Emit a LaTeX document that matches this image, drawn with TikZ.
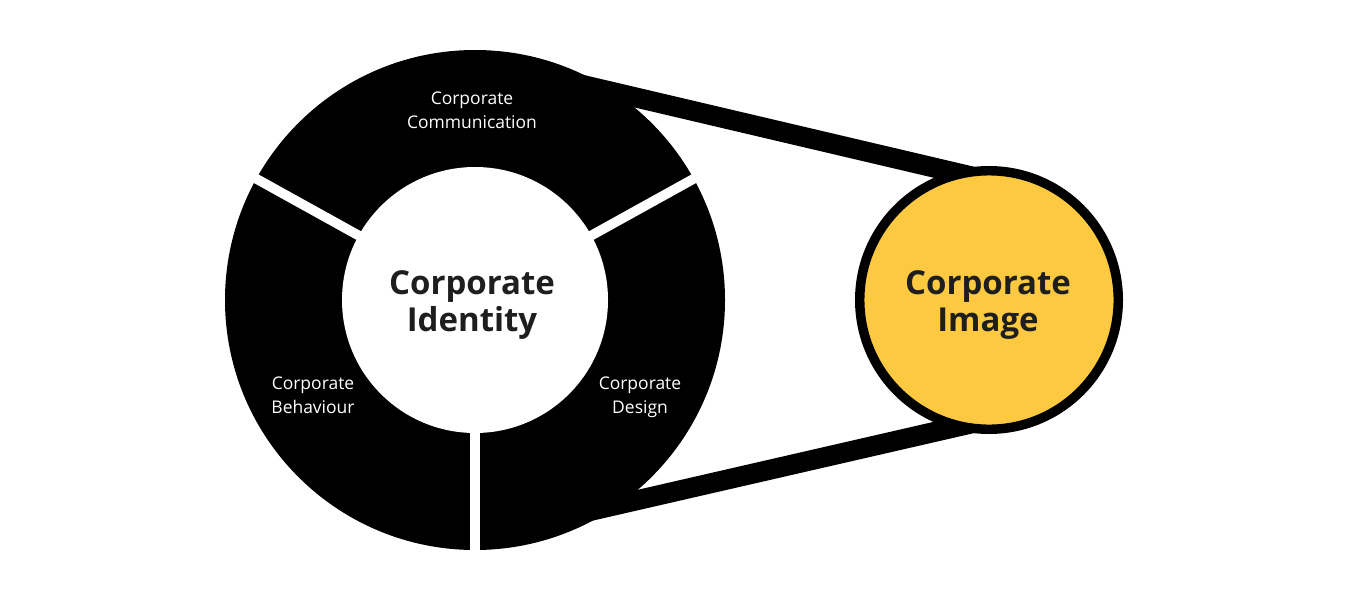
\documentclass[tikz,border=0pt]{standalone}
\usepackage{fontspec}
\setmainfont{Open Sans}
\definecolor{imgyellow}{HTML}{FDC940}
\definecolor{txtdark}{HTML}{1E1E1E}
\begin{document}
\begin{tikzpicture}[x=0.75pt,y=-0.75pt,
  belt/.style={line width=15pt, black},
  gapline/.style={line width=7.3pt, white},
  seglabel/.style={text=white, align=center, inner sep=0pt, font=\fontsize{13.1}{17.6}\selectfont},
  biglabel/.style={text=txtdark, align=center, inner sep=0pt, font=\fontsize{24.75}{27.75}\bfseries\selectfont},
  imgcircle/.style={circle, draw=black, line width=7.1pt, fill=imgyellow, minimum size=193.9pt, inner sep=0pt}
]
\fill[white] (0,0) rectangle (1350,600);
\coordinate (c) at (475,300);
\coordinate (ta) at (570,82.0);
\coordinate (tb) at (989,180.5);
\coordinate (ba) at (570,515.6);
\coordinate (bb) at (989,419.4);
% belt
\draw[belt] (ta) -- (tb);
\draw[belt] (ba) -- (bb);
% ring
\fill[black] (c) circle (250);
\fill[white] (c) circle (133);
% y axis points down, so polar angles are mirrored
\draw[gapline] (c) -- ++(-29:256);
\draw[gapline] (c) -- ++(-151:256);
\draw[gapline] (c) -- ++(90:256);
% image circle
\node[imgcircle] (im) at (989,300) {};
% labels
\node[seglabel] (comm) at (472,110.3) {Corporate\\Communication};
\node[seglabel] (beh) at (313,395.3) {Corporate\\Behaviour};
\node[seglabel] (des) at (640,397.3) {Corporate\\Design};
\node[biglabel] (ident) at (472,305.5) {Corporate\\Identity};
\node[biglabel] (image) at (988,305.5) {Corporate\\Image};
\end{tikzpicture}
\end{document}
